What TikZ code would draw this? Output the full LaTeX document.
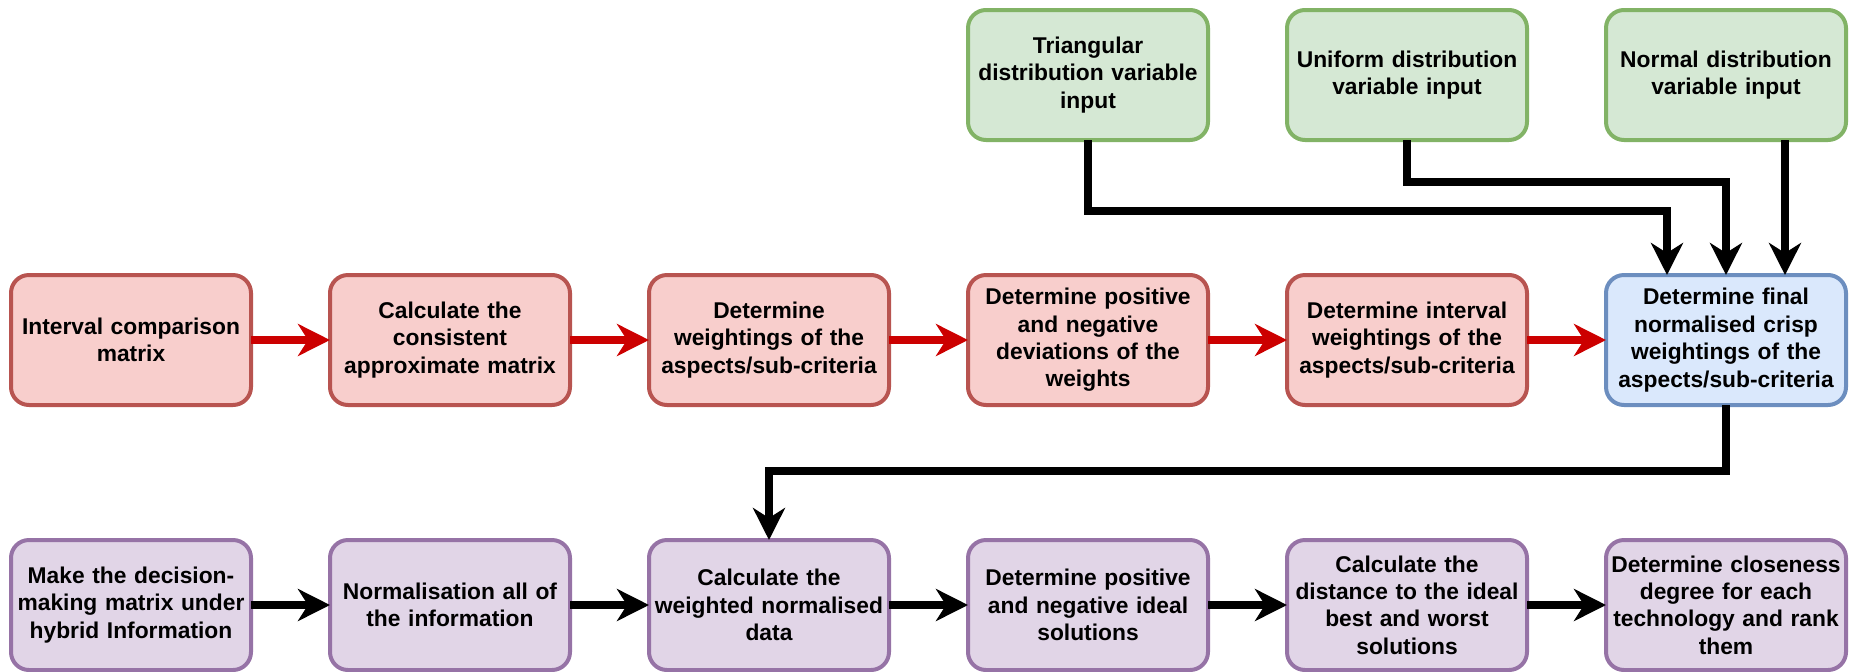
\documentclass[tikz,border=0pt]{standalone}
\usepackage{fontspec}
\setmainfont{Liberation Sans}
\usepackage{tikz}
\usepackage{xcolor}
\usetikzlibrary{arrows.meta, positioning, calc}
\definecolor{cRedFill}{HTML}{F8CECC}
\definecolor{cRedLine}{HTML}{B85450}
\definecolor{cGreenFill}{HTML}{D5E8D4}
\definecolor{cGreenLine}{HTML}{82B366}
\definecolor{cBlueFill}{HTML}{DAE8FC}
\definecolor{cBlueLine}{HTML}{6C8EBF}
\definecolor{cPurpleFill}{HTML}{E1D5E7}
\definecolor{cPurpleLine}{HTML}{9673A6}
\definecolor{cArrowRed}{HTML}{CC0000}
\tikzset{
	stepbox/.style ={rectangle, rounded corners=9pt, minimum width=120pt, minimum height=65pt, text width=116pt, align=center, line width=2pt, inner sep=0pt, outer sep=0pt},
	redbox/.style  ={stepbox, draw=cRedLine, fill=cRedFill},
	greenbox/.style={stepbox, draw=cGreenLine, fill=cGreenFill},
	bluebox/.style ={stepbox, draw=cBlueLine, fill=cBlueFill},
	purplebox/.style={stepbox, draw=cPurpleLine, fill=cPurpleFill},
	% connector styles
	redarrow/.style={-{Stealth[length=16pt, width=16pt, inset=5pt]}, line width=4pt, cArrowRed},
	blkarrow/.style={-{Stealth[length=16pt, width=16pt, inset=5pt]}, line width=4pt, black},
}

\begin{document}
\begin{tikzpicture}[every node/.style={font=\fontsize{11.4pt}{13.7pt}\selectfont\bfseries}, node distance=67.5pt and 39.5pt]
	\useasboundingbox (0,0) rectangle (927pt,-335.5pt);
	% middle row
	\node[redbox] (a1) at (65.5pt,-170pt) {Interval comparison\\matrix};
	\node[redbox, right=of a1] (a2) {Calculate the\\consistent\\approximate matrix};
	\node[redbox, right=of a2] (a3) {Determine\\weightings of the\\aspects/sub-criteria};
	\node[redbox, right=of a3] (a4) {Determine positive\\and negative\\deviations of the\\weights};
	\node[redbox, right=of a4] (a5) {Determine interval\\weightings of the\\aspects/sub-criteria};
	\node[bluebox, right=of a5] (fin) {Determine final\\normalised crisp\\weightings of the\\aspects/sub-criteria};
	% inputs
	\node[greenbox, above=of a4] (g1) {Triangular\\distribution variable\\input};
	\node[greenbox, above=of a5] (g2) {Uniform distribution\\variable input};
	\node[greenbox, above=of fin] (g3) {Normal distribution\\variable input};
	% bottom row
	\node[purplebox, below=of a1] (b1) {Make the decision-\\making matrix under\\hybrid Information};
	\node[purplebox, right=of b1] (b2) {Normalisation all of\\the information};
	\node[purplebox, right=of b2] (b3) {Calculate the\\weighted normalised\\data};
	\node[purplebox, right=of b3] (b4) {Determine positive\\and negative ideal\\solutions};
	\node[purplebox, right=of b4] (b5) {Calculate the\\distance to the ideal\\best and worst\\solutions};
	\node[purplebox, right=of b5] (b6) {Determine closeness\\degree for each\\technology and rank\\them};
	\draw[redarrow](a1)--(a2); \draw[redarrow](a2)--(a3); \draw[redarrow](a3)--(a4); \draw[redarrow](a4)--(a5); \draw[redarrow](a5)--(fin);
	\draw[blkarrow](g1.south)--++(0,-35.5pt)-|([xshift=-29.5pt]fin.north);
	\draw[blkarrow](g2.south)--++(0,-21pt)-|(fin.north);
	\draw[blkarrow]([xshift=29.5pt]g3.south)--([xshift=29.5pt]fin.north);
	\draw[blkarrow](fin.south)--++(0,-33pt)-|(b3.north);
	\draw[blkarrow](b1)--(b2); \draw[blkarrow](b2)--(b3); \draw[blkarrow](b3)--(b4); \draw[blkarrow](b4)--(b5); \draw[blkarrow](b5)--(b6);
\end{tikzpicture}
\end{document}
